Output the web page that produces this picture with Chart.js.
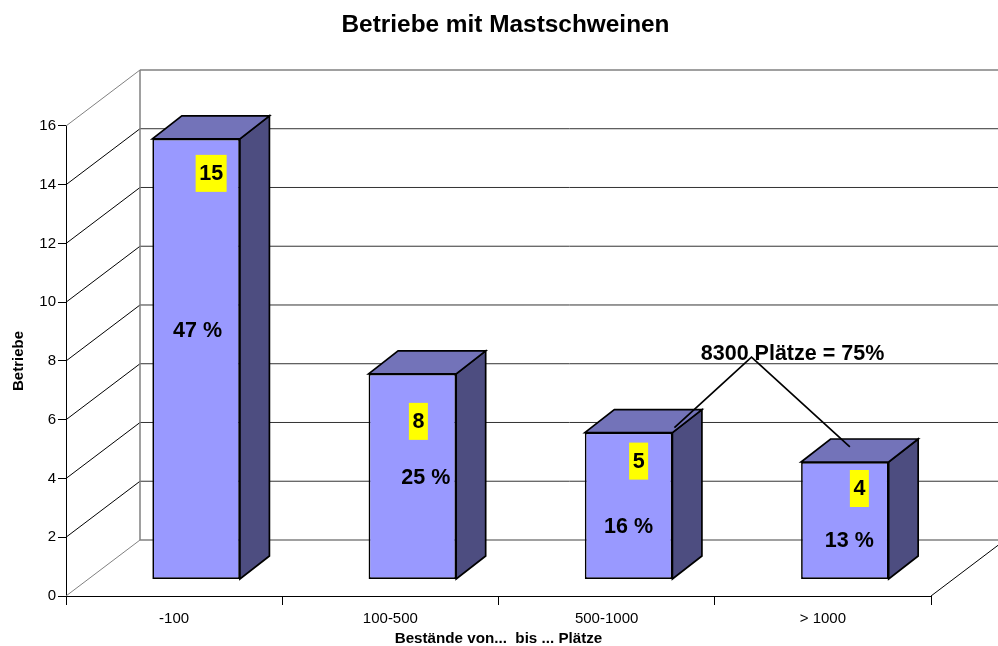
<!DOCTYPE html>
<html>
<head>
<meta charset="utf-8">
<title>Betriebe mit Mastschweinen</title>
<script src="https://cdn.jsdelivr.net/npm/chart.js@4"></script>
<style>
  html, body { margin: 0; padding: 0; background: #fff; overflow: hidden; }
  canvas { display: block; }
</style>
</head>
<body>
<canvas id="chart" width="998" height="646"></canvas>
<script>
const categories = ["-100", "100-500", "500-1000", "> 1000"];
const betriebe = [15, 7, 5, 4]; // height of the bars as drawn
const countLabels = ["15", "8", "5", "4"]; // yellow notes, typed by hand in the original
const percentLabels = ["47 %", "25 %", "16 %", "13 %"];
const yTicks = [0, 2, 4, 6, 8, 10, 12, 14, 16];

const FONT = '"Liberation Sans", Arial, sans-serif';
const WALL = { dx: 74, dy: -56 };
const BAR_SHIFT = { dx: 22, dy: -16.5 };
const BAR_DEPTH = { dx: 29.5, dy: -23 };

// note positions relative to each bar: centre x offset, y offset from the bar top
const countOffsets = [[15, 34.5], [6, 47.5], [10, 28.5], [14.5, 26.5]];
const countBoxWidths = [31, 19, 19, 19];
const percentOffsets = [[1.5, 192], [13.5, 104], [0, 94], [4.5, 79]];

function line(ctx, points, color, width) {
  ctx.beginPath();
  points.forEach((p, i) => (i ? ctx.lineTo(p[0], p[1]) : ctx.moveTo(p[0], p[1])));
  ctx.strokeStyle = color;
  ctx.lineWidth = width;
  ctx.stroke();
}

function face(ctx, points, fill) {
  ctx.beginPath();
  points.forEach((p, i) => (i ? ctx.lineTo(p[0], p[1]) : ctx.moveTo(p[0], p[1])));
  ctx.closePath();
  ctx.fillStyle = fill;
  ctx.fill();
  ctx.strokeStyle = "#000";
  ctx.lineWidth = 1.7;
  ctx.lineJoin = "miter";
  ctx.stroke();
}

const box3d = {
  id: "box3d",
  // side walls, floor and gridlines of the 3D frame
  beforeDatasetsDraw(chart) {
    const { ctx, chartArea, scales } = chart;
    const { left, right, bottom, top } = chartArea;
    const wd = WALL.dx, hd = WALL.dy;
    ctx.save();
    yTicks.forEach((v) => {
      const y = scales.y.getPixelForValue(v);
      const edge = v === 0 || v === 16;
      line(ctx, [[left, y], [left + wd, y + hd]], edge ? "#808080" : "#000", 1);
      line(ctx, [[left + wd, y + hd], [right + wd, y + hd]], edge ? "#808080" : "#333", edge ? 1.5 : 1);
    });
    line(ctx, [[left + wd, top + hd], [left + wd, bottom + hd]], "#808080", 1.5);
    line(ctx, [[right, bottom], [right + wd, bottom + hd]], "#000", 1);

    const bars = chart.getDatasetMeta(0).data;
    bars.forEach((bar) => {
      const l = bar.x - bar.width / 2 + BAR_SHIFT.dx;
      const r = bar.x + bar.width / 2 + BAR_SHIFT.dx;
      const t = bar.y + BAR_SHIFT.dy;
      const b = bar.base + BAR_SHIFT.dy;
      const dx = BAR_DEPTH.dx, dy = BAR_DEPTH.dy;
      face(ctx, [[r, t], [r + dx, t + dy], [r + dx, b + dy], [r, b]], "#4d4d80");
      face(ctx, [[l, t], [l + dx, t + dy], [r + dx, t + dy], [r, t]], "#7373b9");
    });
    ctx.restore();
  },
  // the front faces are the real bars, moved into the depth of the frame
  beforeDatasetDraw(chart) {
    chart.ctx.save();
    chart.ctx.translate(BAR_SHIFT.dx, BAR_SHIFT.dy);
  },
  afterDatasetDraw(chart) {
    chart.ctx.restore();
  },
  afterDatasetsDraw(chart) {
    const { ctx } = chart;
    const bars = chart.getDatasetMeta(0).data;
    ctx.save();
    ctx.textAlign = "center";
    ctx.textBaseline = "middle";
    ctx.font = "bold 21.5px " + FONT;
    bars.forEach((bar, i) => {
      const cx = bar.x + BAR_SHIFT.dx;
      const t = bar.y + BAR_SHIFT.dy;
      const nx = cx + countOffsets[i][0];
      const ny = t + countOffsets[i][1];
      ctx.fillStyle = "#ffff00";
      ctx.fillRect(nx - countBoxWidths[i] / 2, ny - 18.5, countBoxWidths[i], 37);
      ctx.fillStyle = "#000";
      ctx.fillText(countLabels[i], nx, ny + 1);
      ctx.fillText(percentLabels[i], cx + percentOffsets[i][0], t + percentOffsets[i][1]);
    });

    // bracket from the two big size classes up to the note
    const b3 = bars[2], b4 = bars[3];
    const apex = [chart.scales.x.getPixelForValue(2.67), chart.scales.y.getPixelForValue(8.13)];
    line(ctx, [
      [b3.x + b3.width / 2 + BAR_SHIFT.dx + 2, b3.y + BAR_SHIFT.dy - 5],
      apex,
      [b4.x + BAR_SHIFT.dx + 5, b4.y + BAR_SHIFT.dy - 15],
    ], "#000", 1.7);
    ctx.fillStyle = "#000";
    ctx.fillText("8300 Plätze = 75%", apex[0] + 41, apex[1] - 3);
    ctx.restore();
  },
  afterLayout(chart) {
    // title sits a little right of the canvas centre
    chart.titleBlock.left = 13;
    chart.titleBlock.right = 998;
  },
};

new Chart(document.getElementById("chart"), {
  type: "bar",
  data: {
    labels: categories,
    datasets: [
      {
        label: "Betriebe",
        data: betriebe,
        backgroundColor: "#9999ff",
        borderColor: "#000",
        borderWidth: 1.7,
        borderSkipped: false,
        barPercentage: 0.405,
        categoryPercentage: 1,
        clip: false,
      },
    ],
  },
  options: {
    responsive: false,
    animation: false,
    layout: { autoPadding: false, padding: { right: 67 } },
    plugins: {
      legend: { display: false },
      tooltip: { enabled: false },
      title: {
        display: true,
        text: "Betriebe mit Mastschweinen",
        color: "#000",
        font: { family: FONT, size: 24.4, weight: "bold" },
        padding: { top: 10.4, bottom: 86.3 },
      },
    },
    scales: {
      x: {
        afterFit: (scale) => { scale.height = 50; },
        grid: { drawOnChartArea: false, color: "#000", tickLength: 9, offset: true },
        border: { color: "#000" },
        ticks: { color: "#000", padding: 5, maxRotation: 0, font: { family: FONT, size: 15 } },
        title: {
          display: true,
          text: "Bestände von...  bis ... Plätze",
          color: "#000",
          font: { family: FONT, size: 15.2, weight: "bold", lineHeight: 1 },
          padding: 0,
        },
      },
      y: {
        min: 0,
        max: 16,
        afterFit: (scale) => { scale.width = 66; },
        afterBuildTicks: (scale) => { scale.ticks = yTicks.map((value) => ({ value })); },
        grid: { drawOnChartArea: false, color: "#000", tickLength: 8 },
        border: { color: "#000" },
        ticks: { color: "#000", padding: 2, font: { family: FONT, size: 15 } },
        title: {
          display: true,
          text: "Betriebe",
          color: "#000",
          font: { family: FONT, size: 15, weight: "bold" },
          padding: { top: 10, bottom: 0 },
        },
      },
    },
  },
  plugins: [box3d],
});
</script>
</body>
</html>
